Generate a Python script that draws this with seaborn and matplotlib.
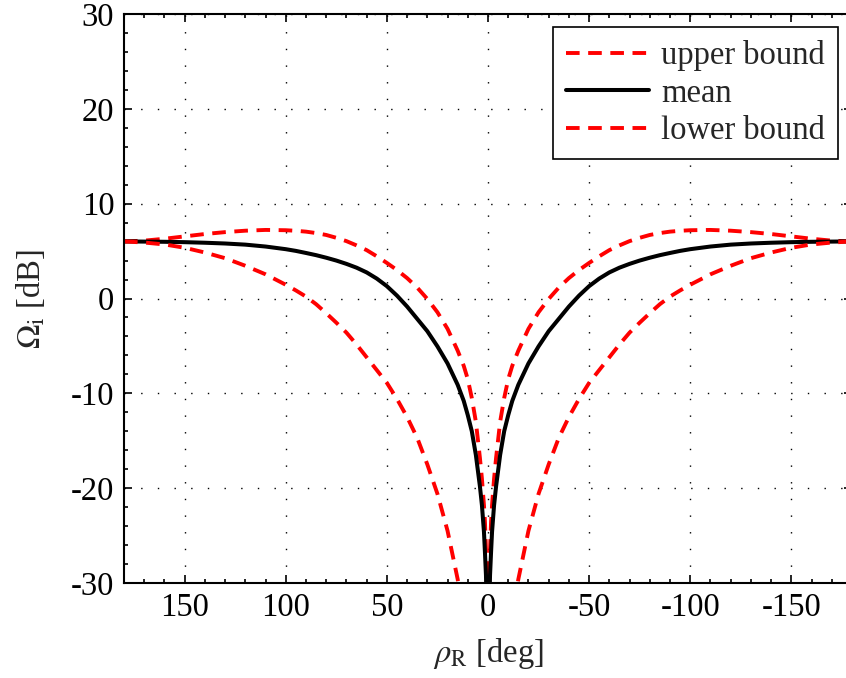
import matplotlib
matplotlib.use('Agg')
import matplotlib.pyplot as plt
from matplotlib.ticker import MultipleLocator
import seaborn as sns

# angle grid (deg), left half then right half
rho = [180, 170, 160, 150, 140, 130, 120, 110, 100, 95, 90, 85, 80, 75, 70, 65,
       60, 55, 50, 45, 40, 35, 30, 25, 20, 15, 12, 10, 8, 6, 4, 3, 2, 1.5, 1, 0.5,
       -0.5, -1, -1.5, -2, -3, -4, -6, -8, -10, -12, -15, -20, -25, -30, -35,
       -40, -45, -50, -55, -60, -65, -70, -75, -80, -85, -90, -95, -100, -110,
       -120, -130, -140, -150, -160, -170, -180]

mean_db = [6.02, 6.0, 5.98, 5.94, 5.88, 5.8, 5.68, 5.48, 5.2, 5.02, 4.8, 4.57,
           4.3, 4.0, 3.65, 3.25, 2.75, 2.1, 1.3, 0.3, -0.85, -2.15, -3.45, -5.05,
           -6.85, -9.1, -10.8, -12.3, -14.0, -16.5, -19.8, -21.8, -24.6, -26.8,
           -29.2, -34.0,
           -34.0, -29.2, -26.8, -24.6, -21.8, -19.8, -16.5, -14.0, -12.3, -10.8,
           -9.1, -6.85, -5.05, -3.45, -2.15, -0.85, 0.3, 1.3, 2.1, 2.75, 3.25,
           3.65, 4.0, 4.3, 4.57, 4.8, 5.02, 5.2, 5.48, 5.68, 5.8, 5.88, 5.94,
           5.98, 6.0, 6.02]

upper_db = [6.02, 6.1, 6.3, 6.55, 6.8, 7.0, 7.15, 7.23, 7.2, 7.14, 7.05, 6.9,
            6.7, 6.4, 6.05, 5.6, 5.1, 4.45, 3.75, 3.0, 2.15, 1.15, -0.05, -1.45,
            -3.2, -5.5, -7.1, -8.5, -10.5, -13.0, -16.8, -19.0, -21.8, -23.6,
            -26.5, -33.0,
            -33.0, -26.5, -23.6, -21.8, -19.0, -16.8, -13.0, -10.5, -8.5, -7.1,
            -5.5, -3.2, -1.45, -0.05, 1.15, 2.15, 3.0, 3.75, 4.45, 5.1, 5.6,
            6.05, 6.4, 6.7, 6.9, 7.05, 7.14, 7.2, 7.23, 7.15, 7.0, 6.8, 6.55,
            6.3, 6.1, 6.02]

rho_low = [180, 170, 160, 150, 140, 130, 120, 110, 100, 95, 90, 85, 80, 75, 70,
           65, 60, 55, 50, 45, 40, 35, 30, 25, 20, 15, 12,
           -12, -15, -20, -25, -30, -35, -40, -45, -50, -55, -60, -65, -70, -75,
           -80, -85, -90, -95, -100, -110, -120, -130, -140, -150, -160, -170,
           -180]

lower_db = [6.02, 5.9, 5.7, 5.35, 4.85, 4.25, 3.45, 2.55, 1.45, 0.85, 0.2, -0.6,
            -1.55, -2.55, -3.6, -4.85, -6.2, -7.55, -8.9, -10.6, -12.5, -14.7,
            -17.5, -20.6, -24.5, -29.6, -33.5,
            -33.5, -29.6, -24.5, -20.6, -17.5, -14.7, -12.5, -10.6, -8.9, -7.55,
            -6.2, -4.85, -3.6, -2.55, -1.55, -0.6, 0.2, 0.85, 1.45, 2.55, 3.45,
            4.25, 4.85, 5.35, 5.7, 5.9, 6.02]

sns.set_style('ticks')
plt.rcParams['font.family'] = ['Liberation Serif', 'DejaVu Serif']
plt.rcParams['mathtext.fontset'] = 'stix'
plt.rcParams['axes.unicode_minus'] = False

fs = 23.5
fig = plt.figure(figsize=(8.46, 6.78), dpi=100)
ax = fig.add_axes([124 / 846, 95 / 678, 728 / 846, 569 / 678])

dash = (0, (3.5, 2.2))
sns.lineplot(x=rho, y=upper_db, ax=ax, color='red', linewidth=2.8,
             linestyle=dash, sort=False, estimator=None, label='upper bound')
sns.lineplot(x=rho, y=mean_db, ax=ax, color='black', linewidth=2.9,
             sort=False, estimator=None, label='mean')
sns.lineplot(x=rho_low, y=lower_db, ax=ax, color='red', linewidth=2.8,
             linestyle=dash, sort=False, estimator=None, label='lower bound')

ax.set_xlim(180, -180)
ax.set_ylim(-30, 30)
ax.set_xticks([150, 100, 50, 0, -50, -100, -150])
ax.set_yticks([-30, -20, -10, 0, 10, 20, 30])
ax.xaxis.set_minor_locator(MultipleLocator(10))
ax.yaxis.set_minor_locator(MultipleLocator(2))
ax.tick_params(which='both', direction='in', top=True, right=True,
               labelsize=fs, colors='black', width=1.2, pad=7)
ax.tick_params(which='major', length=6)
ax.tick_params(which='minor', length=3)
for s in ax.spines.values():
    s.set_linewidth(1.5)
    s.set_color('black')

ax.grid(True, which='major', color='black', linestyle=(0, (1, 11)), linewidth=1.0)

ax.set_xlabel(r'$\rho_{\mathrm{R}}$ [deg]', fontsize=fs, labelpad=9)
ax.set_ylabel(r'$\Omega_{\mathrm{i}}$ [dB]', fontsize=fs, labelpad=17)

leg = ax.legend(loc='upper right', bbox_to_anchor=(838 / 846, 1 - 27 / 678),
                bbox_transform=fig.transFigure, borderaxespad=0, fontsize=fs,
                fancybox=False, framealpha=1, edgecolor='black',
                handlelength=2.55, handletextpad=0.37, labelspacing=0.22,
                borderpad=0.4)
leg.get_frame().set_linewidth(1.2)

fig.savefig('out.png', dpi=100)
